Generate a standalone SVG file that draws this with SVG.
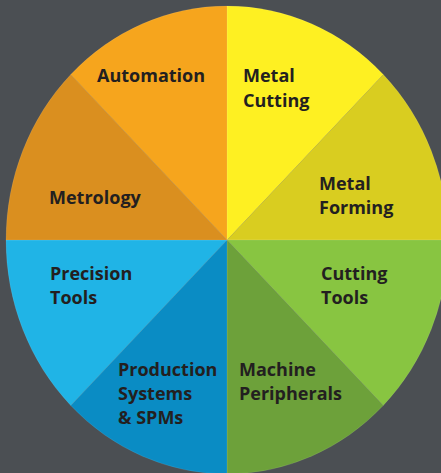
<svg xmlns="http://www.w3.org/2000/svg" width="441" height="473" viewBox="0 0 441 473">
<style>
.lbl{font-family:"Open Sans","Noto Sans","Liberation Sans",sans-serif;font-weight:700;font-size:18px;fill:#231f20}
.sl{stroke:#ffffff;stroke-opacity:0.15;stroke-width:0.6}
</style>
<rect width="441" height="473" fill="#4b4f53"/>
<g id="metal-cutting"><path class="sl" d="M227,240 L227,6 A221,234 0 0 1 383.3,74.5 Z" fill="#fef022"/><text class="lbl" x="243" y="82">Metal</text><text class="lbl" x="243" y="106.5">Cutting</text></g>
<g id="metal-forming"><path class="sl" d="M227,240 L383.3,74.5 A221,234 0 0 1 448,240 Z" fill="#d9cd20"/><text class="lbl" x="319" y="190">Metal</text><text class="lbl" x="319" y="214">Forming</text></g>
<g id="cutting-tools"><path class="sl" d="M227,240 L448,240 A221,234 0 0 1 383.3,405.5 Z" fill="#88c541"/><text class="lbl" x="321" y="280">Cutting</text><text class="lbl" x="321" y="303.5">Tools</text></g>
<g id="machine-peripherals"><path class="sl" d="M227,240 L383.3,405.5 A221,234 0 0 1 227,474 Z" fill="#6da13a"/><text class="lbl" x="239" y="376">Machine</text><text class="lbl" x="239" y="400">Peripherals</text></g>
<g id="production-systems"><path class="sl" d="M227,240 L227,474 A221,234 0 0 1 70.7,405.5 Z" fill="#0a8cc4"/><text class="lbl" x="118" y="376">Production</text><text class="lbl" x="118" y="400">Systems</text><text class="lbl" x="118" y="424">&amp; SPMs</text></g>
<g id="precision-tools"><path class="sl" d="M227,240 L70.7,405.5 A221,234 0 0 1 6,240 Z" fill="#20b4e6"/><text class="lbl" x="50" y="280">Precision</text><text class="lbl" x="50" y="303.5">Tools</text></g>
<g id="metrology"><path class="sl" d="M227,240 L6,240 A221,234 0 0 1 70.7,74.5 Z" fill="#da8f1f"/><text class="lbl" x="49" y="204">Metrology</text></g>
<g id="automation"><path class="sl" d="M227,240 L70.7,74.5 A221,234 0 0 1 227,6 Z" fill="#f6a51d"/><text class="lbl" x="97" y="82">Automation</text></g>
<g id="connectors"/>
</svg>
